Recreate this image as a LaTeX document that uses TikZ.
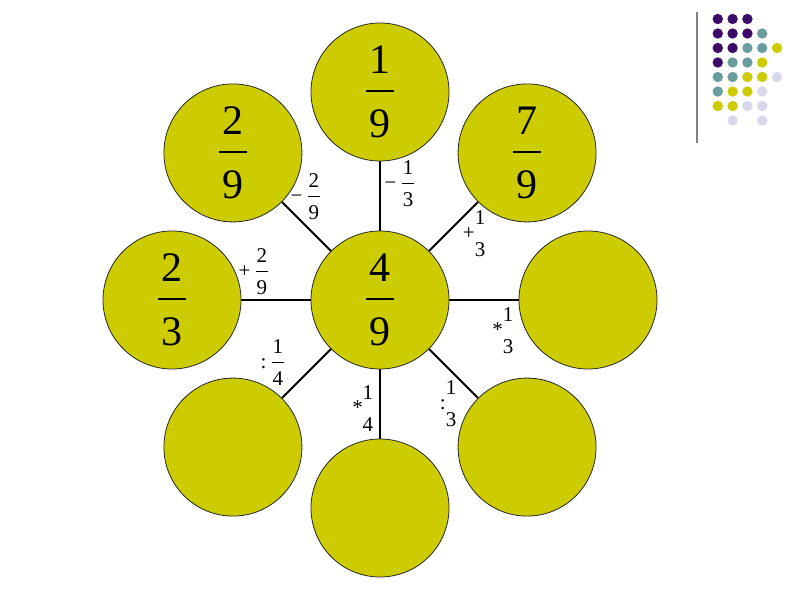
\documentclass[tikz,border=0pt]{standalone}
\usepackage{xcolor}
\usepackage{fontspec}
\setmainfont{Liberation Serif}
\usetikzlibrary{positioning}

\definecolor{ballyellow}{RGB}{204,204,0}
\definecolor{dotpurple}{RGB}{60,10,105}
\definecolor{dotteal}{RGB}{106,158,158}
\definecolor{dotlav}{RGB}{216,216,236}

% sign, bar width, numerator, denominator
\newcommand{\frc}[4]{\vbox{\offinterlineskip\halign{\hfil##\hfil\cr
  #3\cr\noalign{\kern.4em}
  \llap{\raisebox{-.25em}[0pt][0pt]{#1\kern.25em}}\vrule width #2 height .04em depth 0pt\cr
  \noalign{\kern.43em}
  #4\cr}}}
\newcommand{\mns}{\symbol{"2212}}

\tikzset{
  ball/.style={circle, fill=ballyellow, draw=black!85, line width=.8pt,
    minimum size=138pt, inner sep=0pt, font=\fontsize{42}{50}\selectfont},
  link/.style={line width=1.8pt},
  oplabel/.style={inner sep=0pt, font=\fontsize{21}{25}\selectfont}
}

\begin{document}
\begin{tikzpicture}[x=1pt,y=1pt]
\useasboundingbox (-380,-300) rectangle (420,300);

\node[ball] (mid) at (0,0) {\frc{}{.66em}{4}{9}};
\foreach \nm/\ang/\num/\den in {top/90/1/9, topleft/135/2/9, topright/45/7/9, left/180/2/3} {
  \node[ball] (\nm) at (\ang:208) {\frc{}{.66em}{\num}{\den}};
  \draw[link] (mid) -- (\nm);
}
\foreach \nm/\ang in {right/0, botleft/225, bot/270, botright/315} {
  \node[ball] (\nm) at (\ang:208) {};
  \draw[link] (mid) -- (\nm);
}

% operations on the links
\foreach \x/\y/\sg/\bw/\num/\den [count=\i] in {
    28/116/\mns/.6em/1/3, -66/103/\mns/.6em/2/9, -118/28/+/.6em/2/9,
    100/66/+/0pt/1/3, 128/-31/*/0pt/1/3, -102/-63/:/.6em/1/4,
    -12/-109/*/0pt/1/4, 71/-104/:/0pt/1/3} {
  \node[oplabel] (op\i) at (\x,\y) {\frc{\sg}{\bw}{\num}{\den}};
}

% corner decoration
\draw[gray, line width=1.6pt] (317,288) -- (317,157);
\foreach \c/\r/\col in {
    1/1/dotpurple, 2/1/dotpurple, 3/1/dotpurple,
    1/2/dotpurple, 2/2/dotpurple, 3/2/dotpurple, 4/2/dotteal,
    1/3/dotpurple, 2/3/dotpurple, 3/3/dotteal, 4/3/dotteal, 5/3/ballyellow,
    1/4/dotpurple, 2/4/dotteal, 3/4/dotteal, 4/4/ballyellow,
    1/5/dotteal, 2/5/dotteal, 3/5/ballyellow, 4/5/ballyellow, 5/5/dotlav,
    1/6/dotteal, 2/6/ballyellow, 3/6/ballyellow, 4/6/dotlav,
    1/7/ballyellow, 2/7/ballyellow, 3/7/dotlav, 4/7/dotlav,
    2/8/dotlav, 4/8/dotlav} {
  \fill[\col] (323+14.8*\c, 295.5-14.5*\r) circle (5.2);
}
\end{tikzpicture}
\end{document}
